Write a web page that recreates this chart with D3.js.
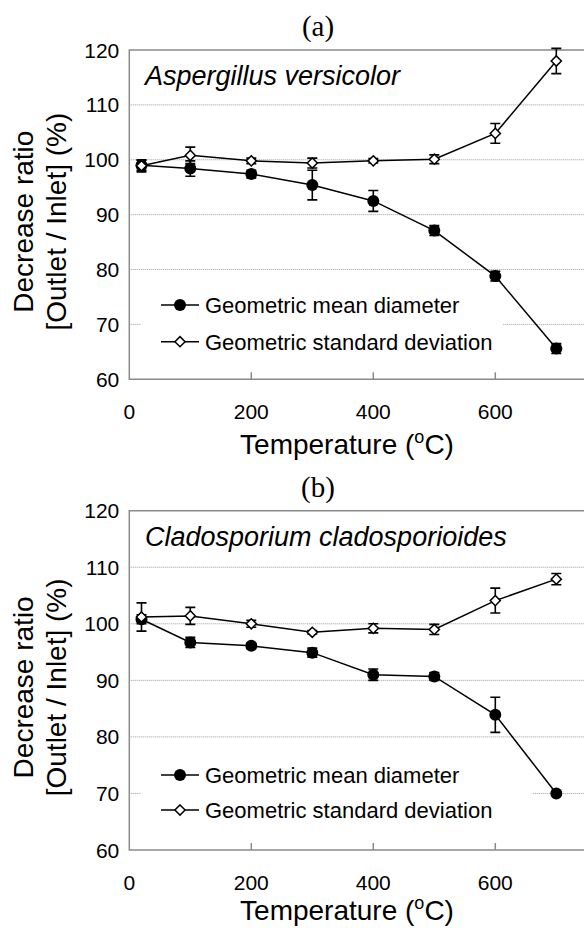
<!DOCTYPE html>
<html>
<head>
<meta charset="utf-8">
<script src="https://cdn.jsdelivr.net/npm/d3@7"></script>
<style>
  body { margin: 0; background: #fff; }
  svg { display: block; }
  text { font-family: "Liberation Sans", Arial, sans-serif; fill: #000; }
</style>
</head>
<body>
<script>
// temperatures (oC)
const temps = [20, 100, 200, 300, 400, 500, 600, 700];

// (a) Aspergillus versicolor
const aGmd    = [99.0, 98.4, 97.4, 95.4, 92.5, 87.1, 78.8, 65.6];
const aGmdErr = [0.9, 1.4, 0.7, 2.7, 1.9, 0.9, 0.9, 0.9];
const aGsd    = [98.9, 100.8, 99.8, 99.4, 99.8, 100.1, 104.8, 118.0];
const aGsdErr = [1.1, 1.5, 0.5, 0.9, 0.4, 0.8, 1.8, 2.3];

// (b) Cladosporium cladosporioides
const bGmd    = [100.8, 96.7, 96.1, 94.9, 91.0, 90.7, 83.9, 70.0];
const bGmdErr = [0.8, 0.9, 0.5, 0.8, 1.0, 0.7, 3.1, 0.3];
const bGsd    = [101.2, 101.4, 100.0, 98.5, 99.2, 99.0, 104.1, 107.9];
const bGsdErr = [2.5, 1.5, 0.6, 0.3, 0.8, 0.9, 2.2, 1.0];

const xTicks = [0, 200, 400, 600];
const yTicks = [60, 70, 80, 90, 100, 110, 120];
const legendNames = ['Geometric mean diameter', 'Geometric standard deviation'];

const width = 584, height = 928;
const svg = d3.select('body').append('svg')
  .attr('width', width)
  .attr('height', height);

const panels = [
  { tag: '(a)', species: 'Aspergillus versicolor', gmd: aGmd, gmdErr: aGmdErr, gsd: aGsd, gsdErr: aGsdErr,
    top: 50, bottom: 379.3, titleY: 454, legendY: 305, legendGap: 36.7, legendBoxW: 362 },
  { tag: '(b)', species: 'Cladosporium cladosporioides', gmd: bGmd, gmdErr: bGmdErr, gsd: bGsd, gsdErr: bGsdErr,
    top: 510.7, bottom: 850, titleY: 920, legendY: 775, legendGap: 35, legendBoxW: 392 }
];

const left = 129.3;
const x = d3.scaleLinear().domain([0, 800]).range([left, left + 4 * 122]);

panels.forEach(p => {
  const g = svg.append('g');
  const y = d3.scaleLinear().domain([60, 120]).range([p.bottom, p.top]);

  // panel tag
  g.append('text')
    .attr('x', 318).attr('y', p.top - 14)
    .attr('text-anchor', 'middle')
    .style('font-family', '"Liberation Serif", "Times New Roman", serif')
    .style('font-size', '29px')
    .text(p.tag);

  // dotted gridlines
  g.selectAll('.grid')
    .data(yTicks.filter(v => v > 60 && v < 120))
    .enter().append('line')
    .attr('x1', left).attr('x2', width)
    .attr('y1', d => y(d)).attr('y2', d => y(d))
    .attr('stroke', '#9a9a9a')
    .attr('stroke-width', 1)
    .attr('stroke-dasharray', '1,1');

  // plot border (top, left, bottom)
  g.append('path')
    .attr('d', `M${width},${y(120)}H${left}V${y(60)}H${width}`)
    .attr('fill', 'none')
    .attr('stroke', '#8a8a8a')
    .attr('stroke-width', 1.5);

  // x ticks pointing inward
  g.selectAll('.xt')
    .data(xTicks.slice(1))
    .enter().append('line')
    .attr('x1', d => x(d)).attr('x2', d => x(d))
    .attr('y1', y(60)).attr('y2', y(60) - 7)
    .attr('stroke', '#8a8a8a')
    .attr('stroke-width', 1.5);

  // tick labels
  g.selectAll('.yl')
    .data(yTicks)
    .enter().append('text')
    .attr('x', left - 10).attr('y', d => y(d))
    .attr('dy', '0.36em')
    .attr('text-anchor', 'end')
    .style('font-size', '21px')
    .text(d => d);

  g.selectAll('.xl')
    .data(xTicks)
    .enter().append('text')
    .attr('x', d => x(d)).attr('y', y(60) + 40)
    .attr('text-anchor', 'middle')
    .style('font-size', '21px')
    .text(d => d);

  // axis titles
  const xt = g.append('text')
    .attr('x', 347).attr('y', p.titleY)
    .attr('text-anchor', 'middle')
    .style('font-size', '28px')
    .text('Temperature (');
  xt.append('tspan').attr('dy', -11).style('font-size', '18px').text('o');
  xt.append('tspan').attr('dy', 11).text('C)');

  const cy = (p.top + p.bottom) / 2 + 7;
  g.append('text')
    .attr('transform', `translate(33,${cy}) rotate(-90)`)
    .attr('text-anchor', 'middle')
    .style('font-size', '28px')
    .text('Decrease ratio');
  g.append('text')
    .attr('transform', `translate(66,${cy}) rotate(-90)`)
    .attr('text-anchor', 'middle')
    .style('font-size', '28px')
    .text('[Outlet / Inlet] (%)');

  // species label
  g.append('text')
    .attr('x', 145).attr('y', p.top + 35)
    .style('font-size', '27px')
    .style('font-style', 'italic')
    .text(p.species);

  // legend box (hides gridlines under it)
  g.append('rect')
    .attr('x', 141).attr('y', p.legendY - 22)
    .attr('width', p.legendBoxW).attr('height', p.legendGap + 42)
    .attr('fill', '#fff');

  const line = d3.line().x((d, i) => x(temps[i])).y(d => y(d));
  const diamond = d3.symbol().type(d3.symbolDiamond2).size(66);

  const series = [
    { vals: p.gmd, err: p.gmdErr, filled: true },
    { vals: p.gsd, err: p.gsdErr, filled: false }
  ];

  series.forEach(s => {
    g.append('path')
      .attr('d', line(s.vals))
      .attr('fill', 'none')
      .attr('stroke', '#000')
      .attr('stroke-width', 1.5);

    const eb = g.append('g');
    s.vals.forEach((v, i) => {
      const cx = x(temps[i]), y1 = y(v - s.err[i]), y2 = y(v + s.err[i]);
      eb.append('path')
        .attr('d', `M${cx},${y1}V${y2}M${cx - 5},${y1}H${cx + 5}M${cx - 5},${y2}H${cx + 5}`)
        .attr('fill', 'none')
        .attr('stroke', '#000')
        .attr('stroke-width', 1.6);
    });
  });

  series.forEach(s => {
    s.vals.forEach((v, i) => {
      if (s.filled) {
        g.append('circle')
          .attr('cx', x(temps[i])).attr('cy', y(v)).attr('r', 6)
          .attr('fill', '#000');
      } else {
        g.append('path')
          .attr('d', diamond())
          .attr('transform', `translate(${x(temps[i])},${y(v)})`)
          .attr('fill', '#fff')
          .attr('stroke', '#000')
          .attr('stroke-width', 1.5);
      }
    });
  });

  // legend entries
  legendNames.forEach((name, i) => {
    const ly = p.legendY + i * p.legendGap;
    g.append('line')
      .attr('x1', 161).attr('x2', 199)
      .attr('y1', ly).attr('y2', ly)
      .attr('stroke', '#000').attr('stroke-width', 1.5);
    if (i === 0) {
      g.append('circle').attr('cx', 180).attr('cy', ly).attr('r', 6).attr('fill', '#000');
    } else {
      g.append('path').attr('d', diamond())
        .attr('transform', `translate(180,${ly})`)
        .attr('fill', '#fff').attr('stroke', '#000').attr('stroke-width', 1.5);
    }
    g.append('text')
      .attr('x', 205).attr('y', ly)
      .attr('dy', '0.36em')
      .style('font-size', '22px')
      .text(name);
  });
});
</script>
</body>
</html>
